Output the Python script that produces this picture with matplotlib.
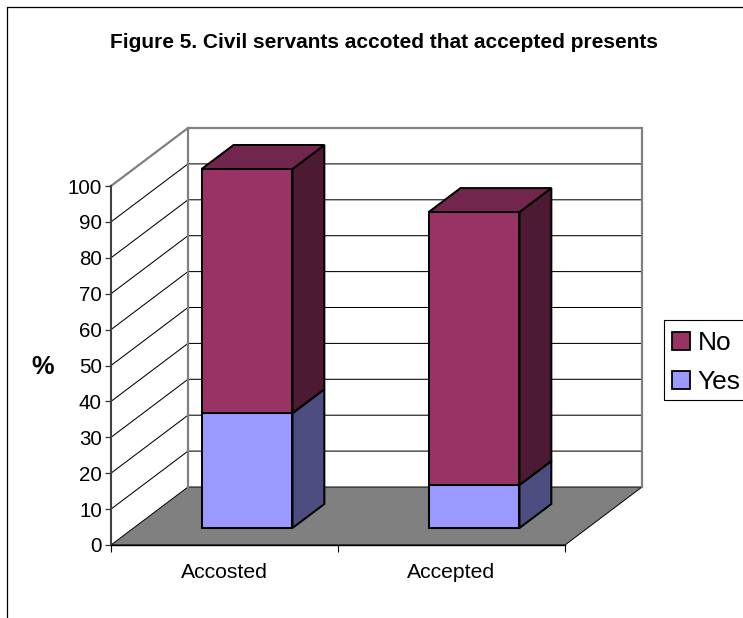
import matplotlib
matplotlib.use("Agg")
import matplotlib.pyplot as plt
from matplotlib.lines import Line2D
from matplotlib.patches import Patch, Polygon, Rectangle

plt.rcParams["font.family"] = ["Liberation Sans", "DejaVu Sans"]

# Data
categories = ["Accosted", "Accepted"]
yes_values = [32, 12]
no_values = [68, 76]
y_ticks = list(range(0, 101, 10))
title = "Figure 5. Civil servants accoted that accepted presents"

# Figure and plot area layout (pixels)
W, H = 743, 618
fig = plt.figure(figsize=(W / 100, H / 100), dpi=100)
X0, X1, Y0, Y1 = 111, 565, 545, 186
ax = fig.add_axes([X0 / W, 1 - Y0 / H, (X1 - X0) / W, (Y0 - Y1) / H])
ax.set_xlim(0, len(categories))
ax.set_ylim(0, 100)
ax.patch.set_alpha(0)

# Oblique projection: depth z in [0, 1] shifts a point right and up
DX = 77 / ((X1 - X0) / len(categories))
DV = 58 / ((Y0 - Y1) / 100)


def proj(x, v, z):
    return (x + z * DX, v + z * DV)


def face(points, **kw):
    ax.add_patch(Polygon([proj(*p) for p in points], closed=True,
                         clip_on=False, **kw))


def line(points, **kw):
    xs, ys = zip(*[proj(*p) for p in points])
    ax.add_line(Line2D(xs, ys, clip_on=False, **kw))


n = len(categories)
GRAY = "#808080"

# Floor
face([(0, 0, 0), (n, 0, 0), (n, 0, 1), (0, 0, 1)],
     facecolor=GRAY, edgecolor="black", linewidth=0.7, zorder=1)

# Gridlines over the side and back walls
for v in y_ticks[1:-1]:
    line([(0, v, 0), (0, v, 1), (n, v, 1)], color="black", linewidth=0.75, zorder=2)

# Wall frame
line([(0, 100, 0), (0, 100, 1), (n, 100, 1), (n, 0, 1)],
     color=GRAY, linewidth=1.6, zorder=3, solid_joinstyle="miter")
line([(0, 100, 1), (0, 0, 1)], color=GRAY, linewidth=1.6, zorder=3)


# Stacked 3D bars
BAR_W, Z_FRONT, Z_BACK = 0.4, 0.293, 0.707
EDGE = {"edgecolor": "black", "linewidth": 1.45, "joinstyle": "miter"}


def box(center, low, high, front, side, top, zorder):
    l, r = center - BAR_W / 2, center + BAR_W / 2
    face([(r, low, Z_FRONT), (r, low, Z_BACK), (r, high, Z_BACK), (r, high, Z_FRONT)],
         facecolor=side, zorder=zorder, **EDGE)
    face([(l, high, Z_FRONT), (r, high, Z_FRONT), (r, high, Z_BACK), (l, high, Z_BACK)],
         facecolor=top, zorder=zorder, **EDGE)
    face([(l, low, Z_FRONT), (r, low, Z_FRONT), (r, high, Z_FRONT), (l, high, Z_FRONT)],
         facecolor=front, zorder=zorder, **EDGE)


for i, (yes, no) in enumerate(zip(yes_values, no_values)):
    box(i + 0.5, 0, yes, "#9999FF", "#4D4D80", "#7373BF", 5)
    box(i + 0.5, yes, yes + no, "#993366", "#4D1A33", "#73264D", 6)

# Axes, ticks and labels
for name in ("top", "right"):
    ax.spines[name].set_visible(False)
ax.spines["left"].set_color("#404040")
ax.spines["left"].set_linewidth(1.5)
ax.spines["bottom"].set_color("black")
ax.spines["bottom"].set_linewidth(1.0)
ax.spines["left"].set_zorder(4)
ax.spines["bottom"].set_zorder(4)

ax.set_yticks(y_ticks)
ax.tick_params(axis="y", labelsize=14.8, length=4, width=0.9, pad=2.5, color="#303030")
ax.set_xticks(range(n + 1))
ax.set_xticklabels([])
ax.set_xticks([i + 0.5 for i in range(n)], categories, minor=True)
ax.tick_params(axis="x", which="major", length=5, width=0.8)
ax.tick_params(axis="x", which="minor", length=0, labelsize=15.2, pad=13)

ax.set_ylabel("%", rotation=0, fontsize=18.3, fontweight="bold", labelpad=0)
ax.yaxis.set_label_coords((43 - X0) / (X1 - X0), (Y0 - 367) / (Y0 - Y1))
ax.yaxis.label.set_verticalalignment("center")
ax.yaxis.label.set_horizontalalignment("center")

fig.text(384.5 / W, 1 - 43 / H, title, ha="center", va="center",
         fontsize=15, fontweight="bold")

# Legend box runs off the right edge of the chart frame
fig.add_artist(Rectangle((663.5 / W, 1 - 399.5 / H), 90 / W, 80 / H,
                         facecolor="white", edgecolor="black", linewidth=0.8,
                         transform=fig.transFigure, zorder=2))
handles = [Patch(facecolor="#993366", edgecolor="black", linewidth=1.3, label="No"),
           Patch(facecolor="#9999FF", edgecolor="black", linewidth=1.3, label="Yes")]
leg = fig.legend(handles=handles, loc="upper left",
                 bbox_to_anchor=(664 / W, 1 - 323 / H), bbox_transform=fig.transFigure,
                 fontsize=19, frameon=False, borderaxespad=0, borderpad=0.32,
                 handlelength=0.68, handleheight=0.68, handletextpad=0.28,
                 labelspacing=0.55)
leg.set_zorder(3)

# Outer chart frame
fig.add_artist(Line2D([7.5 / W, 7.5 / W, 1], [0, 1 - 6.5 / H, 1 - 6.5 / H],
                      color="black", linewidth=0.9, transform=fig.transFigure))

fig.savefig("out.png", dpi=100)
